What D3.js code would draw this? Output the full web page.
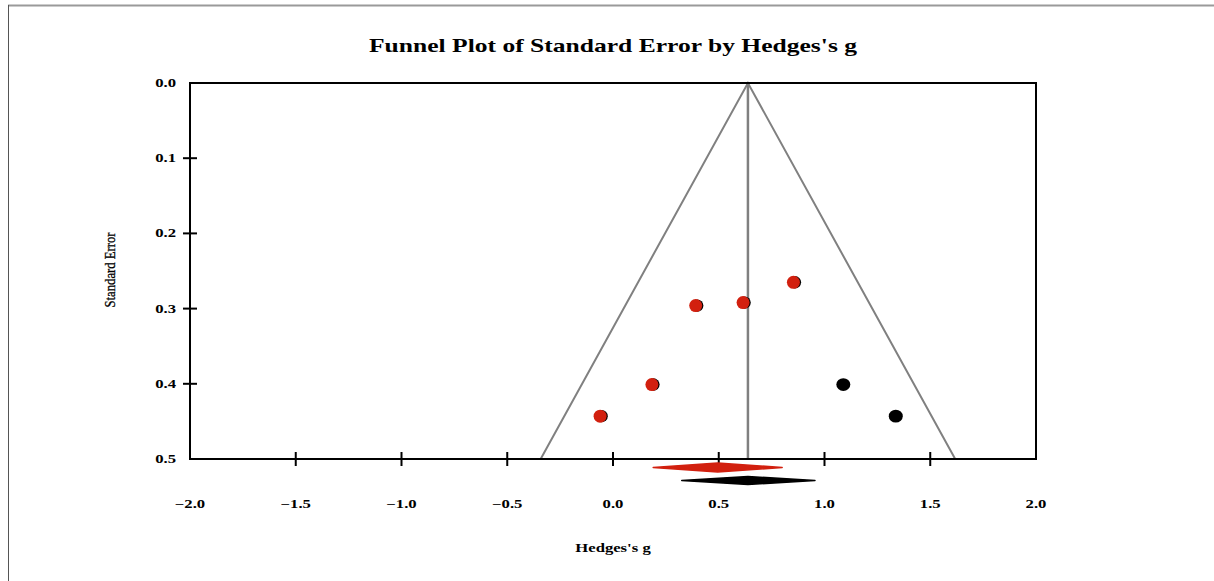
<!DOCTYPE html>
<html>
<head>
<meta charset="utf-8">
<script src="https://cdn.jsdelivr.net/npm/d3@7/dist/d3.min.js"></script>
<style>
  html, body { margin: 0; padding: 0; background: #fff; }
  svg { display: block; }
  text { font-family: "Liberation Serif", "Times New Roman", serif; fill: #000; }
</style>
</head>
<body>
<svg id="chart" width="1214" height="581"></svg>
<script>
// Studies (Hedges's g and standard error)
const observedG  = [-0.061, 0.184, 0.391, 0.615, 0.853];
const observedSE = [0.443, 0.401, 0.296, 0.292, 0.265];
// Studies added by trim-and-fill
const imputedG  = [1.337, 1.089];
const imputedSE = [0.443, 0.401];
// Combined estimates: [lower, point, upper]
const observedSummary = [0.190, 0.495, 0.800];
const adjustedSummary = [0.325, 0.638, 0.955];
// Axis ticks
const xTicks = [-2.0, -1.5, -1.0, -0.5, 0.0, 0.5, 1.0, 1.5, 2.0];
const yTicks = [0.0, 0.1, 0.2, 0.3, 0.4, 0.5];

const svg = d3.select("#chart");
const x = d3.scaleLinear().domain([-2, 2]).range([190, 1036]);
const y = d3.scaleLinear().domain([0, 0.5]).range([83, 459]);
const red = "#d2200f";
const stretch = 1.45;

// outer page frame
svg.append("line").attr("x1", 8).attr("x2", 1214).attr("y1", 5.5).attr("y2", 5.5)
  .attr("stroke", "#9a9a9a").attr("stroke-width", 2);
svg.append("line").attr("x1", 8.5).attr("x2", 8.5).attr("y1", 5).attr("y2", 581)
  .attr("stroke", "#555").attr("stroke-width", 1);

function label(str, px, py, size, weight, anchor, sx) {
  return svg.append("text")
    .attr("transform", `translate(${px},${py}) scale(${sx},1)`)
    .attr("text-anchor", anchor)
    .attr("font-size", size)
    .attr("font-weight", weight)
    .text(str);
}

// title
label("Funnel Plot of Standard Error by Hedges's g", 613, 52, 18, "bold", "middle", 1.42);

// funnel (95% limits around the adjusted estimate)
const centre = adjustedSummary[1];
const seMax = 0.5;
svg.append("path")
  .attr("d", d3.line()([
    [x(centre - 1.96 * seMax), y(seMax)],
    [x(centre), y(0)],
    [x(centre + 1.96 * seMax), y(seMax)]
  ]))
  .attr("fill", "none").attr("stroke", "#808080").attr("stroke-width", 2);
svg.append("line")
  .attr("x1", x(centre)).attr("x2", x(centre))
  .attr("y1", y(0)).attr("y2", y(seMax))
  .attr("stroke", "#808080").attr("stroke-width", 2.5);

// plot frame
svg.append("rect")
  .attr("x", x(-2)).attr("y", y(0))
  .attr("width", x(2) - x(-2)).attr("height", y(0.5) - y(0))
  .attr("fill", "none").attr("stroke", "#000").attr("stroke-width", 2);

// x ticks (crossing the bottom edge)
svg.append("g").selectAll("line")
  .data(xTicks.filter(t => t > -2 && t < 2))
  .join("line")
  .attr("x1", d => x(d)).attr("x2", d => x(d))
  .attr("y1", y(0.5) - 7).attr("y2", y(0.5) + 7)
  .attr("stroke", "#000").attr("stroke-width", 2);
// y ticks (crossing the left edge)
svg.append("g").selectAll("line")
  .data(yTicks.filter(t => t > 0 && t < 0.5))
  .join("line")
  .attr("x1", x(-2) - 7).attr("x2", x(-2) + 7)
  .attr("y1", d => y(d)).attr("y2", d => y(d))
  .attr("stroke", "#000").attr("stroke-width", 2);

// tick labels
xTicks.forEach(t => label(d3.format(".1f")(t), x(t), 508, 11.5, "bold", "middle", stretch));
yTicks.forEach(t => label(d3.format(".1f")(t), 176, y(t) + 4, 11.5, "bold", "end", stretch));

// axis titles
label("Hedges's g", 613, 552, 11.5, "bold", "middle", stretch);
svg.append("text")
  .attr("transform", `translate(115,270) scale(1.3,1) rotate(-90)`)
  .attr("text-anchor", "middle")
  .attr("font-size", 12)
  .attr("textLength", 75)
  .attr("lengthAdjust", "spacingAndGlyphs")
  .attr("stroke", "#000").attr("stroke-width", 0.25)
  .text("Standard Error");

// study points: black markers under the red observed ones
svg.append("g").selectAll("circle")
  .data(observedG.map((g, i) => [g, observedSE[i]]))
  .join("circle")
  .attr("cx", d => x(d[0]) + 1.5).attr("cy", d => y(d[1]))
  .attr("r", 6.2).attr("fill", "#000");
svg.append("g").selectAll("circle")
  .data(observedG.map((g, i) => [g, observedSE[i]]))
  .join("circle")
  .attr("cx", d => x(d[0])).attr("cy", d => y(d[1]))
  .attr("r", 6.5).attr("fill", red);
svg.append("g").selectAll("ellipse")
  .data(imputedG.map((g, i) => [g, imputedSE[i]]))
  .join("ellipse")
  .attr("cx", d => x(d[0])).attr("cy", d => y(d[1]))
  .attr("rx", 7).attr("ry", 6.4).attr("fill", "#000");

// summary diamonds below the axis
function diamond(s, cy, half, colour) {
  svg.append("path")
    .attr("d", `M${x(s[0])},${cy} L${x(s[1])},${cy - half} L${x(s[2])},${cy} L${x(s[1])},${cy + half} Z`)
    .attr("fill", colour).attr("stroke", colour).attr("stroke-width", 1.5)
    .attr("stroke-linejoin", "round");
}
diamond(observedSummary, 467.5, 4.5, red);
diamond(adjustedSummary, 480.5, 4, "#000");
</script>
</body>
</html>
